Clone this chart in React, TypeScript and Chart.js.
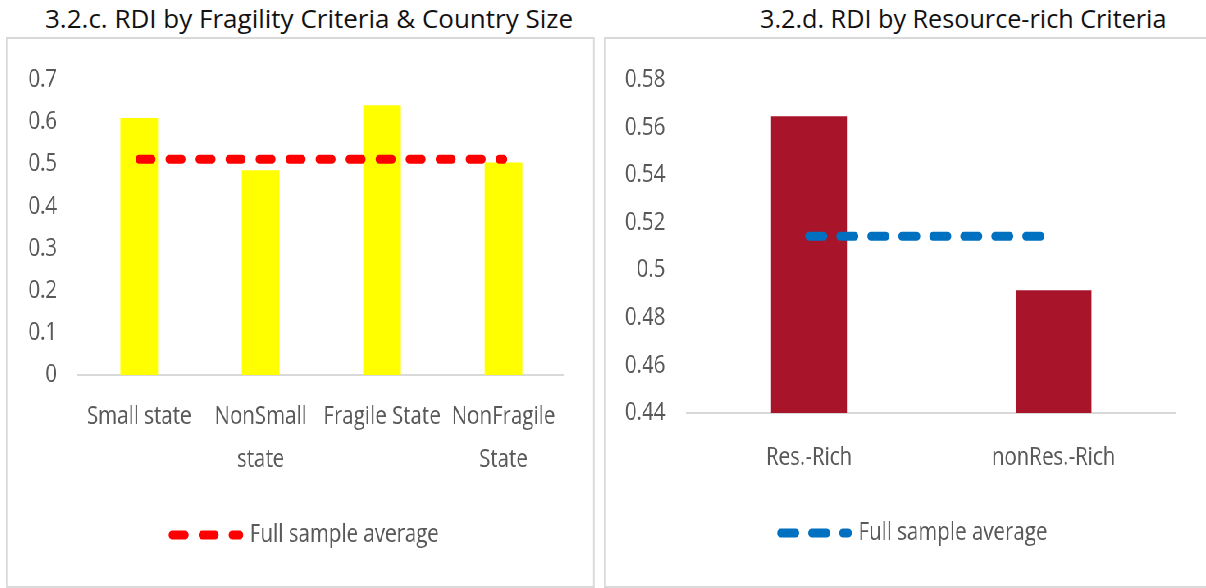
import React, { useEffect, useRef } from "react";
import { Chart, registerables } from "chart.js";

Chart.register(...registerables);

// ---------- data ----------
const leftCategories: (string | string[])[] = ["Small state", ["NonSmall", "state"], "Fragile State", ["NonFragile", "State"]];
const leftValues = [0.61, 0.486, 0.64, 0.504];
const leftAverage = [0.512, 0.512, 0.512, 0.512];
const leftTicks = [0, 0.1, 0.2, 0.3, 0.4, 0.5, 0.6, 0.7];

const rightCategories: (string | string[])[] = ["Res.-Rich", "nonRes.-Rich"];
const rightValues = [0.5648, 0.4916];
const rightAverage = [0.5143, 0.5143];
const rightTicks = [0.44, 0.46, 0.48, 0.5, 0.52, 0.54, 0.56, 0.58];

const legendLabel = "Full sample average";
const leftTitle = "3.2.c. RDI by Fragility Criteria & Country Size";
const rightTitle = "3.2.d. RDI by Resource-rich Criteria";

// ---------- style ----------
const FONT = "'Open Sans', 'Noto Sans', sans-serif";
const SX = 0.82;
const TEXT_GRAY = "#595959";
const AXIS_GRAY = "#d9d9d9";

type Spec = {
  categories: (string | string[])[];
  values: number[];
  average: number[];
  ticks: number[];
  barColor: string;
  lineColor: string;
  dash: number[];
  padding: { left: number; right: number; top: number; bottom: number };
  yWidth: number;
  xHeight: number;
  xPad: number;
  legendShift: number;
};

function makeConfig(s: Spec): any {
  const shiftPlugin = {
    id: "legendShift",
    afterLayout(chart: any) {
      const lg = chart.legend;
      if (lg) {
        lg.left += s.legendShift;
        lg.right += s.legendShift;
      }
    },
  };
  return {
    type: "bar",
    plugins: [shiftPlugin],
    data: {
      labels: s.categories,
      datasets: [
        {
          type: "line",
          label: legendLabel,
          data: s.average,
          borderColor: s.lineColor,
          backgroundColor: s.lineColor,
          borderWidth: 9,
          borderDash: s.dash,
          borderCapStyle: "round",
          pointRadius: 0,
          pointHoverRadius: 0,
          fill: false,
          tension: 0,
          order: 0,
        },
        {
          type: "bar",
          label: "RDI",
          data: s.values,
          backgroundColor: s.barColor,
          borderWidth: 0,
          barPercentage: 0.31,
          categoryPercentage: 1,
          order: 1,
        },
      ],
    },
    options: {
      responsive: false,
      animation: false,
      events: [],
      layout: { padding: s.padding },
      plugins: {
        tooltip: { enabled: false },
        title: { display: false },
        legend: {
          display: true,
          position: "bottom",
          align: "center",
          labels: {
            usePointStyle: true,
            pointStyle: "line",
            pointStyleWidth: 82,
            padding: 10,
            color: TEXT_GRAY,
            font: { family: FONT, size: 25 },
            generateLabels: (chart: any) => {
              const ds = chart.data.datasets[0];
              return [
                {
                  text: ds.label,
                  fillStyle: ds.borderColor,
                  strokeStyle: ds.borderColor,
                  lineWidth: ds.borderWidth,
                  lineDash: ds.borderDash,
                  lineDashOffset: 0,
                  lineCap: "round",
                  pointStyle: "line",
                  hidden: false,
                  datasetIndex: 0,
                  fontColor: TEXT_GRAY,
                },
              ];
            },
          },
        },
      },
      scales: {
        x: {
          grid: { display: false, drawTicks: false },
          border: { display: true, color: AXIS_GRAY, width: 2 },
          ticks: {
            color: TEXT_GRAY,
            font: { family: FONT, size: 25, lineHeight: 1.73 },
            padding: s.xPad,
            maxRotation: 0,
            minRotation: 0,
            autoSkip: false,
          },
          afterFit: (sc: any) => {
            sc.height = s.xHeight;
          },
        },
        y: {
          min: s.ticks[0],
          max: s.ticks[s.ticks.length - 1],
          grid: { display: false, drawTicks: false },
          border: { display: false },
          ticks: {
            color: TEXT_GRAY,
            font: { family: FONT, size: 25 },
            padding: 26,
            callback: (v: any) => String(v),
          },
          afterBuildTicks: (sc: any) => {
            sc.ticks = s.ticks.map((v) => ({ value: v }));
          },
          afterFit: (sc: any) => {
            sc.width = s.yWidth;
          },
        },
      },
    },
  };
}

const leftSpec: Spec = {
  categories: leftCategories,
  values: leftValues,
  average: leftAverage,
  ticks: leftTicks,
  barColor: "#FFFF00",
  lineColor: "#FF0000",
  dash: [15.4, 21.2],
  padding: { left: 0, right: 35.3, top: 38.5, bottom: 28.5 },
  yWidth: 86.4,
  xHeight: 137.5,
  xPad: 20,
  legendShift: 24,
};

const rightSpec: Spec = {
  categories: rightCategories,
  values: rightValues,
  average: rightAverage,
  ticks: rightTicks,
  barColor: "#A8152B",
  lineColor: "#0070C0",
  dash: [17.8, 20],
  padding: { left: 0, right: 52.7, top: 40, bottom: 30.5 },
  yWidth: 98.9,
  xHeight: 97.5,
  xPad: 23.4,
  legendShift: 28.6,
};

function ChartPanel({ spec, left, width }: { spec: Spec; left: number; width: number }) {
  const ref = useRef<HTMLCanvasElement>(null);
  useEffect(() => {
    const chart = new Chart(ref.current as HTMLCanvasElement, makeConfig(spec));
    return () => chart.destroy();
  }, [spec]);
  return (
    <div
      style={{
        position: "absolute",
        left,
        top: 37,
        width,
        height: 551,
        boxSizing: "border-box",
        border: `2px solid ${AXIS_GRAY}`,
        transform: `scaleX(${SX})`,
        transformOrigin: "0 0",
        background: "#fff",
      }}
    >
      <canvas
        ref={ref}
        width={width - 4}
        height={547}
        style={{ display: "block", width: width - 4, height: 547 }}
      />
    </div>
  );
}

export default function App() {
  const titleStyle: React.CSSProperties = {
    position: "absolute",
    top: 5,
    fontFamily: FONT,
    lineHeight: "26px",
    color: "#111",
    whiteSpace: "nowrap",
  };
  return (
    <div
      style={{
        position: "absolute",
        left: 0,
        top: 0,
        width: 1206,
        height: 588,
        overflow: "hidden",
        background: "#fff",
      }}
    >
      <div style={{ ...titleStyle, left: 45, fontSize: 26 }}>{leftTitle}</div>
      <div style={{ ...titleStyle, left: 760, fontSize: 25.2 }}>{rightTitle}</div>
      <ChartPanel spec={leftSpec} left={6} width={718} />
      <ChartPanel spec={rightSpec} left={604} width={752} />
    </div>
  );
}
